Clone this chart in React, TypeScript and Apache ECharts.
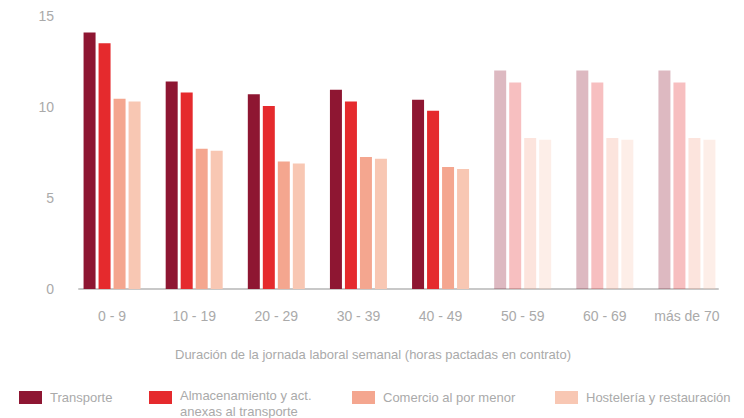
import React, { useEffect, useRef } from "react";
import * as echarts from "echarts";

const categories = ["0 - 9", "10 - 19", "20 - 29", "30 - 39", "40 - 49", "50 - 59", "60 - 69", "más de 70"];
const seriesNames = [
  "Transporte",
  "Almacenamiento y act. anexas al transporte",
  "Comercio al por menor",
  "Hostelería y restauración",
];
const legendLabels = [
  "Transporte",
  "{s| }\n{a|Almacenamiento y act.}\n{a|anexas al transporte}",
  "Comercio al por menor",
  "Hostelería y restauración",
];
const transporte = [14.1, 11.4, 10.7, 10.95, 10.4, 12.0, 12.0, 12.0];
const almacenamiento = [13.5, 10.8, 10.05, 10.3, 9.8, 11.35, 11.35, 11.35];
const comercio = [10.45, 7.7, 7.0, 7.25, 6.7, 8.3, 8.3, 8.3];
const hosteleria = [10.3, 7.6, 6.9, 7.15, 6.6, 8.2, 8.2, 8.2];
const yMin = 0;
const yMax = 15;
const yInterval = 5;
const fadedFrom = 5;
const xAxisName = "Duración de la jornada laboral semanal (horas pactadas en contrato)";

const colors = ["#8E1632", "#E52A2D", "#F4A68F", "#F8C7B3"];
const FONT = "'Liberation Sans', Arial, sans-serif";
const GREY = "#aaaaaa";

export default function App() {
  const ref = useRef<HTMLDivElement>(null);
  useEffect(() => {
    if (!ref.current) return;
    const chart = echarts.init(ref.current, null, { renderer: "svg" });
    const allValues = [transporte, almacenamiento, comercio, hosteleria];
    const legendLefts = [19, 149, 352, 555];
    const option: any = {
      animation: false,
      textStyle: { fontFamily: FONT },
      grid: [
        { left: 71, right: 16, top: 16, bottom: 129 },
        { left: 79, right: 26, top: 16, bottom: 129 },
      ],
      legend: seriesNames.map((name, i) => ({
        data: [name],
        left: legendLefts[i],
        top: i === 1 ? 378.5 : 387.5,
        padding: 0,
        icon: "rect",
        itemWidth: 23,
        itemHeight: 13,
        selectedMode: false,
        formatter: () => legendLabels[i],
        textStyle:
          i === 1
            ? {
                color: GREY,
                fontSize: 13,
                fontFamily: FONT,
                padding: [0, 0, 0, 3],
                rich: {
                  s: { fontSize: 6, lineHeight: 12, fontFamily: FONT, color: GREY },
                  a: { fontSize: 13, lineHeight: 16, fontFamily: FONT, color: GREY },
                },
              }
            : {
                color: GREY,
                fontSize: 13,
                fontFamily: FONT,
                lineHeight: 16,
                padding: [0, 0, 4, 3],
              },
      })),
      xAxis: [
        {
          type: "category",
          gridIndex: 0,
          data: categories,
          axisLine: { show: false },
          axisTick: { show: false },
          axisLabel: { color: GREY, fontSize: 14, margin: 20, fontFamily: FONT, interval: 0 },
          name: xAxisName,
          nameLocation: "middle",
          nameGap: 59,
          nameTextStyle: { color: GREY, fontSize: 13, fontFamily: FONT, padding: [0, 53, 0, 0] },
        },
        {
          type: "category",
          gridIndex: 1,
          data: [""],
          axisLine: { show: true, lineStyle: { color: "#c8c8c8", width: 2 } },
          axisTick: { show: false },
          axisLabel: { show: false },
        },
      ],
      yAxis: [
        {
          type: "value",
          gridIndex: 0,
          min: yMin,
          max: yMax,
          interval: yInterval,
          axisLine: { show: false },
          axisTick: { show: false },
          splitLine: { show: false },
          axisLabel: { color: GREY, fontSize: 14, margin: 17, fontFamily: FONT },
        },
        { type: "value", gridIndex: 1, min: yMin, max: yMax, show: false },
      ],
      series: seriesNames.map((name, si) => ({
        type: "bar",
        name,
        xAxisIndex: 0,
        yAxisIndex: 0,
        barWidth: 12,
        barGap: "25%",
        itemStyle: { color: colors[si] },
        data: allValues[si].map((v, i) =>
          i >= fadedFrom ? { value: v, itemStyle: { opacity: 0.3 } } : v
        ),
      })),
    };
    chart.setOption(option);
    return () => chart.dispose();
  }, []);
  return (
    <div
      ref={ref}
      style={{ position: "fixed", left: 0, top: 0, width: 744, height: 418, background: "#fff" }}
    />
  );
}
